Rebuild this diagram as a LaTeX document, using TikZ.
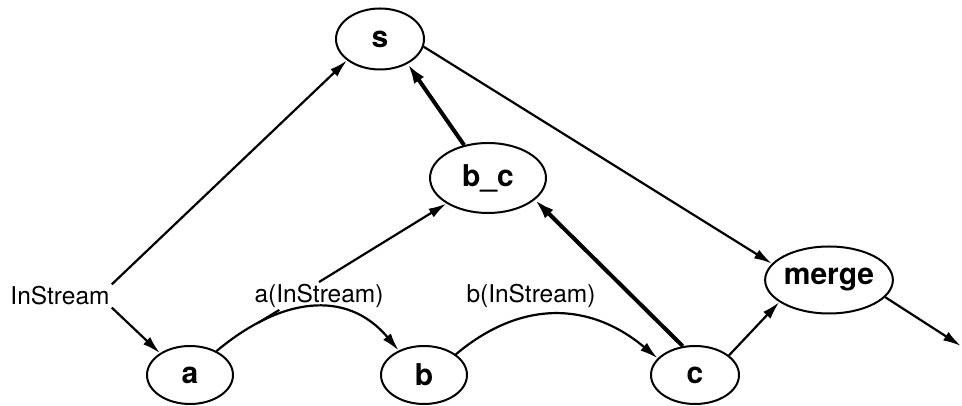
\documentclass[tikz,border=0pt]{standalone}
\usepackage{fontspec}
\setmainfont{TeX Gyre Heros}
\usetikzlibrary{arrows.meta,shapes.geometric}

\begin{document}
\begin{tikzpicture}[x=1pt,y=1pt,
    proc/.style={draw, ellipse, line width=2pt, inner sep=0pt,
      font=\fontsize{30}{33}\selectfont\bfseries},
    stream/.style={inner sep=2pt, font=\fontsize{24.5}{27}\selectfont},
    arr/.style={line width=2.2pt, -{Latex[length=18pt,width=10pt]}},
    heavy/.style={line width=4pt, -{Latex[length=20pt,width=12pt]}}]
  \useasboundingbox (0,0) rectangle (962,406);

  % processes
  \node[proc, minimum width=88pt, minimum height=61pt] (s) at (380,367) {s};
  \node[proc, minimum width=116pt, minimum height=70pt] (bc) at (488,228) {b\_c};
  \node[proc, minimum width=120pt, minimum height=67pt] (merge) at (829,126) {merge};
  \node[proc, minimum width=86pt, minimum height=58pt] (a) at (190,31) {a};
  \node[proc, minimum width=86pt, minimum height=58pt] (b) at (424,31) {b};
  \node[proc, minimum width=88pt, minimum height=58pt] (c) at (695,31) {c};

  % streams
  \node[stream] (instream) at (60,110) {InStream};
  \node[stream] (la) at (319,110) {a(InStream)};
  \node[stream] (lb) at (531,110) {b(InStream)};
  \coordinate (out) at (961,60);

  \draw[arr] (instream.north east) -- (s.-147);
  \draw[arr] (instream.south east) -- (a.144);
  \draw[arr] (a.42) to[out=40,in=130,looseness=1.15] coordinate[pos=0.22] (atap) (b.136);
  \draw[line width=2.2pt] (atap) -- ([xshift=27pt]la.south west);
  \draw[arr] (la.north) -- (bc);
  \draw[arr] (b.33) to[out=40,in=140,looseness=1.1] (c.156);
  \draw[heavy] (c.113) -- (bc.-25);
  \draw[heavy] (bc.126) -- (s.-42);
  \draw[arr] (s.-10) -- (merge.164);
  \draw[arr] (c.30) -- (merge.-156);
  \draw[arr] (merge.-17) -- (out);
\end{tikzpicture}
\end{document}
